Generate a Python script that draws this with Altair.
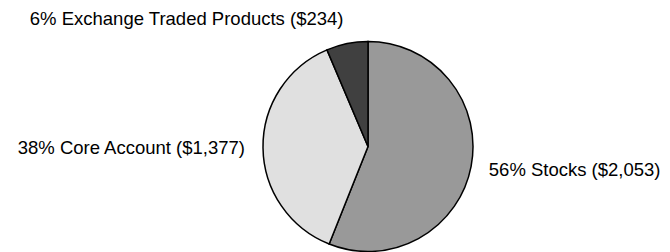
import math
import altair as alt
import pandas as pd

categories = ["Stocks", "Core Account", "Exchange Traded Products"]
values = [2053, 1377, 234]
colors = ["#999999", "#e0e0e0", "#404040"]

total = sum(values)
labels = [
    f"{round(v / total * 100)}% {c} (${v:,})" for c, v in zip(categories, values)
]

df = pd.DataFrame(
    {
        "order": list(range(len(categories))),
        "category": categories,
        "value": values,
        "label": labels,
    }
)

CX, CY = 360, 138.5
R = 105
LABEL_R = 123
FONT = "Liberation Sans"

theta_scale = alt.Scale(domain=[0, 1], range=[0, 2 * math.pi])

base = (
    alt.Chart(df)
    .transform_window(cum="sum(value)", sort=[alt.SortField("order")], frame=[None, 0])
    .transform_joinaggregate(total="sum(value)")
    .transform_calculate(
        start="(datum.cum - datum.value) / datum.total",
        end="datum.cum / datum.total",
        mid="(datum.cum - datum.value / 2) / datum.total",
    )
)

arcs = base.mark_arc(outerRadius=R, stroke="black", strokeWidth=1.5).encode(
    theta=alt.Theta("start:Q", scale=theta_scale),
    theta2="end:Q",
    color=alt.Color(
        "category:N", scale=alt.Scale(domain=categories, range=colors), legend=None
    ),
    x=alt.value(CX),
    y=alt.value(CY),
)


def label_layer(cond, align, baseline, dy=0):
    return (
        base.transform_filter(cond)
        .mark_text(
            radius=LABEL_R,
            align=align,
            baseline=baseline,
            dy=dy,
            font=FONT,
            fontSize=18.5,
            color="#000000",
        )
        .encode(
            theta=alt.Theta("mid:Q", scale=theta_scale),
            text="label:N",
            x=alt.value(CX),
            y=alt.value(CY),
        )
    )


right = label_layer("datum.mid >= 0.08 && datum.mid <= 0.45", "left", "middle")
left = label_layer("datum.mid >= 0.55 && datum.mid <= 0.92", "right", "middle")
top_left = label_layer("datum.mid > 0.92", "right", "bottom", dy=3)
top_right = label_layer("datum.mid < 0.08", "left", "bottom", dy=3)

chart = (
    alt.layer(arcs, right, left, top_left, top_right)
    .properties(width=654, height=244, autosize=alt.AutoSizeParams(type="none"), padding=0)
    .configure_view(stroke=None)
)

chart.save("out.html", embed_options={"renderer": "svg", "actions": False})
